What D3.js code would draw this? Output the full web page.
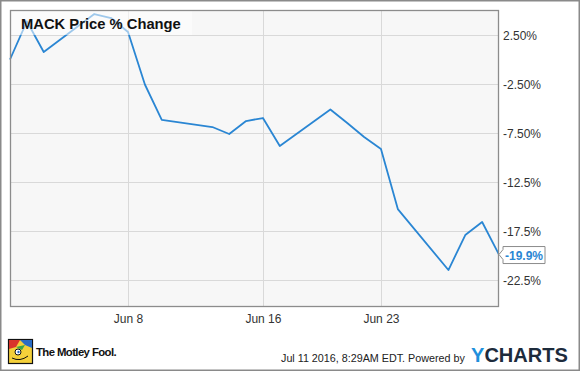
<!DOCTYPE html>
<html><head><meta charset="utf-8">
<script src="https://cdn.jsdelivr.net/npm/d3@7"></script>
<style>html,body{margin:0;padding:0;background:#fff;}svg{display:block;}</style>
</head><body>
<script>
const dates = ["2016-06-01","2016-06-02","2016-06-03","2016-06-06","2016-06-07","2016-06-08","2016-06-09","2016-06-10","2016-06-13","2016-06-14","2016-06-15","2016-06-16","2016-06-17","2016-06-20","2016-06-21","2016-06-22","2016-06-23","2016-06-24","2016-06-27","2016-06-28","2016-06-29","2016-06-30"];
const values = [0, 3.9, 0.77, 4.64, 4.23, 2.81, -2.55, -6.17, -6.89, -7.6, -6.28, -5.97, -8.83, -5.1, -6.48, -7.91, -9.13, -15.26, -21.48, -17.91, -16.58, -19.9];
const yTicks = [2.5, -2.5, -7.5, -12.5, -17.5, -22.5];
const yTickLabels = ["2.50%", "-2.50%", "-7.50%", "-12.5%", "-17.5%", "-22.5%"];
const xTicks = ["2016-06-08", "2016-06-16", "2016-06-23"];
const xTickLabels = ["Jun 8", "Jun 16", "Jun 23"];
const title = "MACK Price % Change";
const lastLabel = "-19.9%";
const dateDomain = ["2016-06-01", "2016-06-30"];
const yDomain = [-25.15, 5.05];

const W = 580, H = 371;
const P = {l: 10, t: 10, r: 499, b: 306};
const FONT = "Arial, 'Liberation Sans', sans-serif";
const parse = d3.utcParse("%Y-%m-%d");

const svg = d3.select("body").append("svg").attr("width", W).attr("height", H);
svg.append("rect").attr("x", 0.75).attr("y", 0.75).attr("width", W - 1.5).attr("height", H - 1.5)
  .attr("fill", "#fff").attr("stroke", "#8a8a8a").attr("stroke-width", 1.5);

const x = d3.scaleUtc().domain(dateDomain.map(parse)).range([P.l, P.r]);
const y = d3.scaleLinear().domain(yDomain).range([P.b, P.t]);

svg.append("rect").attr("x", P.l).attr("y", P.t).attr("width", P.r - P.l).attr("height", P.b - P.t)
  .attr("fill", "#f7f7f7");

// gridlines
svg.append("g").selectAll("line.h").data(yTicks).join("line")
  .attr("x1", P.l).attr("x2", P.r).attr("y1", d => Math.round(y(d)) + 0.5).attr("y2", d => Math.round(y(d)) + 0.5)
  .attr("stroke", "#d9d9d9").attr("stroke-width", 1);
svg.append("g").selectAll("line.v").data(xTicks).join("line")
  .attr("x1", d => Math.round(x(parse(d))) + 0.5).attr("x2", d => Math.round(x(parse(d))) + 0.5)
  .attr("y1", P.t).attr("y2", P.b).attr("stroke", "#d9d9d9").attr("stroke-width", 1);

// y labels
const yAxis = d3.axisRight(y).tickValues(yTicks).tickSize(0).tickPadding(0)
  .tickFormat((d, i) => yTickLabels[i]);
const ga = svg.append("g").attr("transform", `translate(${P.r + 4},0)`).call(yAxis);
ga.select(".domain").remove();
ga.selectAll("text").attr("font-family", FONT).attr("font-size", 12).attr("fill", "#333").attr("dy", "0.35em");

// x labels
const xAxis = d3.axisBottom(x).tickValues(xTicks.map(parse)).tickSize(0).tickPadding(0)
  .tickFormat((d, i) => xTickLabels[i]);
const gx = svg.append("g").attr("transform", `translate(0,${P.b + 17})`).call(xAxis);
gx.select(".domain").remove();
gx.selectAll("text").attr("font-family", FONT).attr("font-size", 12).attr("fill", "#333").attr("dy", 0);

// line
const data = dates.map((d, i) => ({d: parse(d), v: values[i]}));
svg.append("path").datum(data)
  .attr("d", d3.line().x(d => x(d.d)).y(d => y(d.v)))
  .attr("fill", "none").attr("stroke", "#2a86d3").attr("stroke-width", 1.8).attr("stroke-linejoin", "round");

// helper: fit font size so natural width equals target
function fitText(sel, base, target) {
  sel.attr("font-size", base);
  const w = sel.node().getComputedTextLength();
  if (w > 0) sel.attr("font-size", (base * target / w).toFixed(2));
  return sel;
}

// title box
svg.append("rect").attr("x", P.l).attr("y", P.t).attr("width", 182).attr("height", 25)
  .attr("fill", "#fff").attr("opacity", 0.55);
const tt = svg.append("text").attr("x", 21).attr("y", 29).text(title)
  .attr("font-family", FONT).attr("font-weight", "bold").attr("fill", "#111");
fitText(tt, 15, 160);

// plot border
svg.append("rect").attr("x", P.l + 0.5).attr("y", P.t + 0.5).attr("width", P.r - P.l - 1).attr("height", P.b - P.t)
  .attr("fill", "none").attr("stroke", "#8c8c8c").attr("stroke-width", 1.3);

// last value label
const last = data[data.length - 1];
const ly = y(last.v);
const bx = P.r + 4, bw = 42;
svg.append("path")
  .attr("d", `M${P.r},${ly} L${bx},${ly - 5} L${bx},${ly - 8} L${bx + bw},${ly - 8} L${bx + bw},${ly + 9} L${bx},${ly + 9} L${bx},${ly + 5} Z`)
  .attr("fill", "#fff").attr("stroke", "#8c8c8c").attr("stroke-width", 1);
svg.append("text").attr("x", bx + bw / 2).attr("y", ly + 5).attr("text-anchor", "middle").text(lastLabel)
  .attr("font-family", FONT).attr("font-size", 12).attr("font-weight", "bold").attr("fill", "#2a86d3");

// footer: Motley Fool logo
const logo = svg.append("g");
logo.append("rect").attr("x", 8.5).attr("y", 339.5).attr("width", 24).attr("height", 24).attr("fill", "#f4d03a").attr("stroke", "#111").attr("stroke-width", 1.2);
logo.append("path").attr("d", "M9,340 L20,340 L16,347 L9,349 Z").attr("fill", "#d9342b");
logo.append("path").attr("d", "M20,340 L32,340 L32,348 L25,345 Z").attr("fill", "#2b6cc4");
logo.append("path").attr("d", "M16,347 L25,345 L22,350 Z").attr("fill", "#3aa64a");
logo.append("circle").attr("cx", 18).attr("cy", 352).attr("r", 3).attr("fill", "#fff").attr("stroke", "#111").attr("stroke-width", 1);
logo.append("circle").attr("cx", 18.5).attr("cy", 352).attr("r", 1.2).attr("fill", "#2b6cc4");
logo.append("path").attr("d", "M12,358 Q20,362 28,356").attr("fill", "none").attr("stroke", "#111").attr("stroke-width", 1);
const mf = svg.append("text").attr("x", 36).attr("y", 356).text("The Motley Fool.")
  .attr("font-family", FONT).attr("font-weight", "bold").attr("fill", "#111")
  .attr("letter-spacing", -0.6);
fitText(mf, 12.5, 81);

// footer: timestamp & YCharts
const ts = svg.append("text").attr("x", 281).attr("y", 362).text("Jul 11 2016, 8:29AM EDT. Powered by")
  .attr("font-family", FONT).attr("fill", "#222");
fitText(ts, 12, 184);
const yc = svg.append("text").attr("x", 471).attr("y", 362)
  .attr("font-family", FONT).attr("font-weight", "bold");
yc.append("tspan").text("Y").attr("fill", "#1e90dc");
yc.append("tspan").text("CHARTS").attr("fill", "#1d2b3c");
fitText(yc, 19, 97);
</script>
</body></html>
